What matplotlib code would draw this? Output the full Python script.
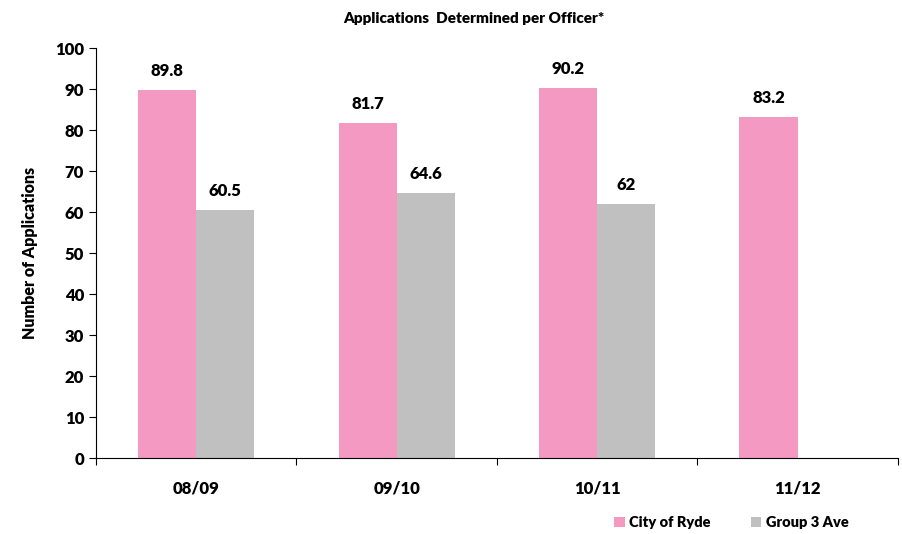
import numpy as np
import matplotlib.pyplot as plt

plt.rcParams['font.family'] = ['Lato', 'DejaVu Sans']
plt.rcParams['font.weight'] = 'heavy'

years = ["08/09", "09/10", "10/11", "11/12"]
ryde = [89.8, 81.7, 90.2, 83.2]
group3 = [60.5, 64.6, 62, None]
ryde_labels = ["89.8", "81.7", "90.2", "83.2"]
group3_labels = ["60.5", "64.6", "62", ""]

pink = "#F49AC2"
grey = "#C0C0C0"

fig = plt.figure(figsize=(9.03, 5.34), dpi=100)
ax = fig.add_axes([0.1063, 0.1423, 0.888, 0.7678])

x = np.arange(len(years))
w = 0.29
g_vals = [np.nan if v is None else v for v in group3]
b1 = ax.bar(x - w / 2, ryde, w, color=pink, label="City of Ryde")
b2 = ax.bar(x + w / 2, g_vals, w, color=grey, label="Group 3 Ave")

for rect, lab in zip(b1, ryde_labels):
    ax.annotate(lab, (rect.get_x() + rect.get_width() / 2, rect.get_height()),
                xytext=(0, 8), textcoords="offset points", ha="center", va="bottom",
                fontsize=12, fontweight="heavy")
for rect, lab in zip(b2, group3_labels):
    h = rect.get_height()
    if lab and not np.isnan(h):
        ax.annotate(lab, (rect.get_x() + rect.get_width() / 2, h),
                    xytext=(0, 8), textcoords="offset points", ha="center", va="bottom",
                    fontsize=12, fontweight="heavy")

ax.set_xlim(-0.5, len(years) - 0.5)
ax.set_ylim(0, 100)
ax.set_yticks(range(0, 101, 10))
ax.set_yticklabels([str(v) for v in range(0, 101, 10)], fontsize=12, fontweight="heavy")
ax.set_xticks(np.arange(-0.5, len(years), 1.0))
ax.set_xticklabels([])
ax.set_xticks(x, minor=True)
ax.set_xticklabels(years, minor=True, fontsize=12, fontweight="heavy")
ax.tick_params(axis="x", which="minor", length=0, pad=16)
ax.tick_params(axis="x", which="major", length=5, direction="out")
ax.tick_params(axis="y", length=5, direction="out")

for s in ["top", "right"]:
    ax.spines[s].set_visible(False)

ax.set_ylabel("Number of Applications", fontsize=11.5, fontweight="heavy", labelpad=12)
fig.text(0.525, 0.966, "Applications  Determined per Officer*", ha="center", va="center",
         fontsize=11, fontweight="heavy")

fig.legend(handles=[b1, b2], loc="center", bbox_to_anchor=(0.81, 0.022), ncol=2,
           frameon=False, prop={"weight": "heavy", "size": 10.5},
           handlelength=0.7, handleheight=0.7, columnspacing=2.8, handletextpad=0.3)

fig.savefig("out.png", dpi=100)
